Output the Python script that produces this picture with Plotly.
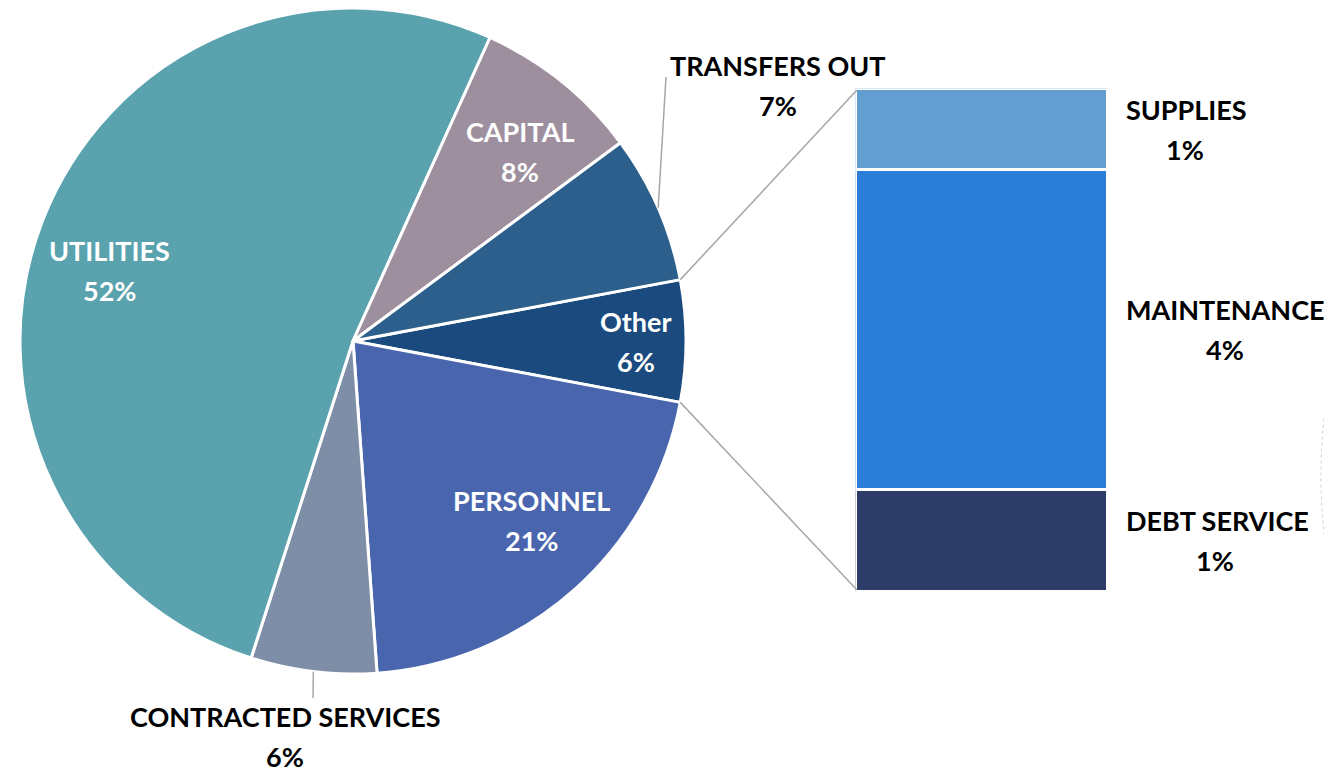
import math
import plotly.graph_objects as go

W, H = 1332, 774
OFF = 8  # page body margin around the figure

# data (percent of total budget)
main_labels = ["PERSONNEL", "CONTRACTED SERVICES", "UTILITIES", "CAPITAL", "TRANSFERS OUT"]
main_values = [20.9, 6.1, 51.8, 8.1, 7.2]
other_labels = ["DEBT SERVICE", "MAINTENANCE", "SUPPLIES"]   # bottom -> top
other_values = [1.2, 3.75, 0.95]

pie_labels = ["Other"] + main_labels
pie_values = [sum(other_values)] + main_values
total = sum(pie_values)

pie_colors = ["#1B4A7E", "#4965AE", "#7F8EA7", "#5AA3AE", "#9E8F9F", "#2C5F8B"]
bar_colors = ["#2E3D68", "#2B7ED8", "#629ED0"]

FONT = "Lato"
FS = 27


def fx(x):
    return (x - OFF) / W


def fy(y):
    return 1 - (y - OFF) / H


# pie geometry in screen pixels (top clamped to the page margin)
cx, cy, R = 353, 341, 333
start = pie_values[0] / total * 360 / 2   # Other centred at 3 o'clock


def slice_angles():
    out = []
    a = start
    for v in pie_values:
        span = v / total * 360
        out.append((a, a - span, a - span / 2))
        a -= span
    return out


def on_pie(ang, r):
    t = math.radians(ang)
    return cx + r * math.cos(t), cy - r * math.sin(t)


angles = slice_angles()

fig = go.Figure()

fig.add_trace(go.Pie(
    labels=pie_labels,
    values=pie_values,
    sort=False,
    direction="clockwise",
    rotation=90 - start,
    domain=dict(x=[fx(cx - R), fx(cx + R)], y=[max(0, fy(cy + R)), min(1, fy(cy - R))]),
    marker=dict(colors=pie_colors, line=dict(color="white", width=3)),
    textinfo="none",
    showlegend=False,
))

# stacked bar for the "Other" breakdown
bx0, bx1, by0, by1 = 855.5, 1107.5, 88.5, 591.5
for lab, val, col in zip(other_labels, other_values, bar_colors):
    fig.add_trace(go.Bar(
        x=[0], y=[val], name=lab,
        marker=dict(color=col, line=dict(color="white", width=3)),
        showlegend=False,
    ))

annotations = []


def add_label(x, y, name, pct, color, name_anchor="center", pct_x=None, yref="paper"):
    ypos = fy(y) if yref == "paper" else y
    annotations.append(dict(
        x=fx(x), y=ypos, xref="paper", yref=yref, text=name, showarrow=False,
        xanchor=name_anchor, yanchor="middle", yshift=20,
        font=dict(family=FONT, size=FS, color=color, weight="bold")))
    annotations.append(dict(
        x=fx(pct_x if pct_x is not None else x), y=ypos, xref="paper", yref=yref,
        text=pct, showarrow=False, xanchor="center", yanchor="middle", yshift=-20,
        font=dict(family=FONT, size=FS, color=color, weight="bold")))


# inside labels: radial factor and angle nudge
inside = {"Other": (0.85, 0), "PERSONNEL": (0.76, 3), "UTILITIES": (0.76, 5), "CAPITAL": (0.76, -2.5)}
outside = {"TRANSFERS OUT": ((778, 85), (666, 77)), "CONTRACTED SERVICES": ((285, 736), (313, 698))}

shapes = []
for lab, val, (a0, a1, am) in zip(pie_labels, pie_values, angles):
    pct = f"{round(val / total * 100)}%"
    if lab in inside:
        k, nudge = inside[lab]
        x, y = on_pie(am + nudge, R * k)
        add_label(x, y, lab, pct, "white")
    else:
        (tx, ty), (lx, ly) = outside[lab]
        sx, sy = on_pie(am, R)
        shapes.append(dict(type="line", xref="paper", yref="paper",
                           x0=fx(sx), y0=fy(sy), x1=fx(lx), y1=fy(ly),
                           line=dict(color="#A6A6A6", width=1.5)))
        add_label(tx, ty, lab, pct, "black")

# connector lines from the Other slice to the bar
a0, a1, _ = angles[0]
for ang, (ex, ey) in [(a0, (857, 90)), (a1, (857, 590))]:
    sx, sy = on_pie(ang, R)
    shapes.append(dict(type="line", xref="paper", yref="paper",
                       x0=fx(sx), y0=fy(sy), x1=fx(ex), y1=fy(ey),
                       line=dict(color="#A6A6A6", width=1.5)))

# bar labels
pct_centres = {"SUPPLIES": 1185, "MAINTENANCE": 1225, "DEBT SERVICE": 1215}
base = 0
for lab, val in zip(other_labels, other_values):
    mid = base + val / 2
    base += val
    add_label(1124, mid, lab, f"{round(val / total * 100)}%", "black",
              name_anchor="left", pct_x=pct_centres[lab], yref="y")

# faint dotted arc at the right edge
shapes.append(dict(type="circle", xref="paper", yref="paper",
                   x0=fx(1321), x1=fx(1321 + 2 * 556), y0=fy(475 + 556), y1=fy(475 - 556),
                   line=dict(color="#D0D0D0", width=1, dash="dot")))

fig.update_layout(
    width=W, height=H,
    margin=dict(l=0, r=0, t=0, b=0),
    paper_bgcolor="white", plot_bgcolor="white",
    barmode="stack", bargap=0,
    xaxis=dict(domain=[fx(bx0), fx(bx1)], range=[-0.5, 0.5], visible=False, fixedrange=True),
    yaxis=dict(domain=[fy(by1), fy(by0)], range=[0, sum(other_values)], visible=False, fixedrange=True),
    annotations=annotations,
    shapes=shapes,
)

fig.write_html("out.html")
